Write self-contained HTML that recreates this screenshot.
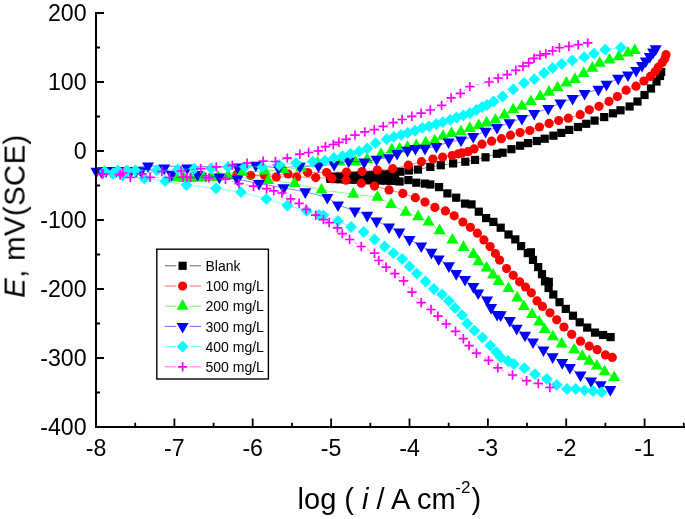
<!DOCTYPE html>
<html><head><meta charset="utf-8"><style>
html,body{margin:0;padding:0;background:#fff;}
body{width:685px;height:519px;overflow:hidden;font-family:"Liberation Sans",sans-serif;}
svg{display:block;}

</style></head><body>
<svg width="685" height="519" viewBox="0 0 685 519">
<path d="M610.6 337.1 L603.1 335 L595 332.6 L587.2 327.6 L579.7 322.3 L573 315.7 L565.8 308.9 L559.5 302.2 L553.3 294.5 L548.6 288 L548.8 281.8 L545 281.3 L542 274.2 L538.2 267.1 L533 259.9 L530.9 252.3 L527.8 253.1 L521.1 246.1 L515.3 239.4 L508.5 234.5 L500.7 227.7 L493.4 221.9 L486.1 218.1 L478.8 211.7 L471.5 204.4 L465 203.6 L456.2 197.7 L447.4 193.4 L439.1 187.1 L430.3 184.5 L425 183.6 L416.3 182.7 L408.4 180.1 L399.6 181.5 L395.5 180.9 L390.5 180.8 L385.5 180.6 L380.5 180.5 L375.5 180.3 L370.5 180.2 L365.5 180 L360.5 179.9 L355.5 179.7 L350.5 179.6 L345.5 179.4 L340.5 179.2 L335.5 179.1 L330.5 178.9 L330 177 L335 176.8 L340 176.5 L345 176.3 L350 176.1 L355 175.8 L360 175.6 L365 175.4 L370 175.2 L375 174.9 L380 174.7 L385 174.5 L390 174.2 L395 174 L400.5 171.7 L409 170.5 L418 169.6 L430.3 166.9 L440.8 165.2 L453.1 163.4 L465.3 161.7 L475 159.9 L485.5 157.3 L496.9 153.8 L502.6 152.7 L511.4 149.2 L520.1 145.7 L528 143.1 L536.8 141 L544.7 138.7 L553.4 135.7 L561.3 132.9 L569.2 129.9 L578 127 L586.2 123.8 L594.6 120.6 L604.2 117.1 L613 113.3 L620.5 110.3 L629.6 106.5 L637.5 101.5 L644.5 95 L651 88.5 L656.5 81.5 L660 76 L661.2 72" fill="none" stroke="#000000" stroke-width="0.75" stroke-opacity="0.65"/>
<g fill="#000000"><rect x="326.4" y="174.8" width="8.2" height="8.2"/><rect x="331.4" y="175" width="8.2" height="8.2"/><rect x="336.4" y="175.1" width="8.2" height="8.2"/><rect x="341.4" y="175.3" width="8.2" height="8.2"/><rect x="346.4" y="175.5" width="8.2" height="8.2"/><rect x="351.4" y="175.6" width="8.2" height="8.2"/><rect x="356.4" y="175.8" width="8.2" height="8.2"/><rect x="361.4" y="175.9" width="8.2" height="8.2"/><rect x="366.4" y="176.1" width="8.2" height="8.2"/><rect x="371.4" y="176.2" width="8.2" height="8.2"/><rect x="376.4" y="176.4" width="8.2" height="8.2"/><rect x="381.4" y="176.5" width="8.2" height="8.2"/><rect x="386.4" y="176.7" width="8.2" height="8.2"/><rect x="391.4" y="176.8" width="8.2" height="8.2"/><rect x="395.5" y="177.4" width="8.2" height="8.2"/><rect x="404.3" y="176" width="8.2" height="8.2"/><rect x="412.2" y="178.6" width="8.2" height="8.2"/><rect x="420.9" y="179.5" width="8.2" height="8.2"/><rect x="426.2" y="180.4" width="8.2" height="8.2"/><rect x="435" y="183" width="8.2" height="8.2"/><rect x="443.3" y="189.3" width="8.2" height="8.2"/><rect x="452.1" y="193.6" width="8.2" height="8.2"/><rect x="460.9" y="199.5" width="8.2" height="8.2"/><rect x="467.4" y="200.3" width="8.2" height="8.2"/><rect x="474.7" y="207.6" width="8.2" height="8.2"/><rect x="482" y="214" width="8.2" height="8.2"/><rect x="489.3" y="217.8" width="8.2" height="8.2"/><rect x="496.6" y="223.6" width="8.2" height="8.2"/><rect x="504.4" y="230.4" width="8.2" height="8.2"/><rect x="511.2" y="235.3" width="8.2" height="8.2"/><rect x="517" y="242" width="8.2" height="8.2"/><rect x="523.7" y="249" width="8.2" height="8.2"/><rect x="526.8" y="248.2" width="8.2" height="8.2"/><rect x="528.9" y="255.8" width="8.2" height="8.2"/><rect x="534.1" y="263" width="8.2" height="8.2"/><rect x="537.9" y="270.1" width="8.2" height="8.2"/><rect x="540.9" y="277.2" width="8.2" height="8.2"/><rect x="544.7" y="277.7" width="8.2" height="8.2"/><rect x="544.5" y="283.9" width="8.2" height="8.2"/><rect x="549.2" y="290.4" width="8.2" height="8.2"/><rect x="555.4" y="298.1" width="8.2" height="8.2"/><rect x="561.7" y="304.8" width="8.2" height="8.2"/><rect x="568.9" y="311.6" width="8.2" height="8.2"/><rect x="575.6" y="318.2" width="8.2" height="8.2"/><rect x="583.1" y="323.5" width="8.2" height="8.2"/><rect x="590.9" y="328.5" width="8.2" height="8.2"/><rect x="599" y="330.9" width="8.2" height="8.2"/><rect x="606.5" y="333" width="8.2" height="8.2"/><rect x="325.9" y="172.9" width="8.2" height="8.2"/><rect x="330.9" y="172.7" width="8.2" height="8.2"/><rect x="335.9" y="172.4" width="8.2" height="8.2"/><rect x="340.9" y="172.2" width="8.2" height="8.2"/><rect x="345.9" y="172" width="8.2" height="8.2"/><rect x="350.9" y="171.7" width="8.2" height="8.2"/><rect x="355.9" y="171.5" width="8.2" height="8.2"/><rect x="360.9" y="171.3" width="8.2" height="8.2"/><rect x="365.9" y="171.1" width="8.2" height="8.2"/><rect x="370.9" y="170.8" width="8.2" height="8.2"/><rect x="375.9" y="170.6" width="8.2" height="8.2"/><rect x="380.9" y="170.4" width="8.2" height="8.2"/><rect x="385.9" y="170.1" width="8.2" height="8.2"/><rect x="390.9" y="169.9" width="8.2" height="8.2"/><rect x="396.4" y="167.6" width="8.2" height="8.2"/><rect x="404.9" y="166.4" width="8.2" height="8.2"/><rect x="413.9" y="165.5" width="8.2" height="8.2"/><rect x="426.2" y="162.8" width="8.2" height="8.2"/><rect x="436.7" y="161.1" width="8.2" height="8.2"/><rect x="449" y="159.3" width="8.2" height="8.2"/><rect x="461.2" y="157.6" width="8.2" height="8.2"/><rect x="470.9" y="155.8" width="8.2" height="8.2"/><rect x="481.4" y="153.2" width="8.2" height="8.2"/><rect x="492.8" y="149.7" width="8.2" height="8.2"/><rect x="498.5" y="148.6" width="8.2" height="8.2"/><rect x="507.3" y="145.1" width="8.2" height="8.2"/><rect x="516" y="141.6" width="8.2" height="8.2"/><rect x="523.9" y="139" width="8.2" height="8.2"/><rect x="532.7" y="136.9" width="8.2" height="8.2"/><rect x="540.6" y="134.6" width="8.2" height="8.2"/><rect x="549.3" y="131.6" width="8.2" height="8.2"/><rect x="557.2" y="128.8" width="8.2" height="8.2"/><rect x="565.1" y="125.8" width="8.2" height="8.2"/><rect x="573.9" y="122.9" width="8.2" height="8.2"/><rect x="582.1" y="119.7" width="8.2" height="8.2"/><rect x="590.5" y="116.5" width="8.2" height="8.2"/><rect x="600.1" y="113" width="8.2" height="8.2"/><rect x="608.9" y="109.2" width="8.2" height="8.2"/><rect x="616.4" y="106.2" width="8.2" height="8.2"/><rect x="625.5" y="102.4" width="8.2" height="8.2"/><rect x="633.4" y="97.4" width="8.2" height="8.2"/><rect x="640.4" y="90.9" width="8.2" height="8.2"/><rect x="646.9" y="84.4" width="8.2" height="8.2"/><rect x="652.4" y="77.4" width="8.2" height="8.2"/><rect x="655.9" y="71.9" width="8.2" height="8.2"/><rect x="657.1" y="67.9" width="8.2" height="8.2"/></g>
<path d="M612.3 357.4 L605.5 354.9 L597.2 349.7 L589.2 346.1 L580.5 341.2 L571.7 334.3 L564 327 L556.7 319.8 L550 312.8 L542.5 306.4 L537 300.9 L531.3 292.8 L525.5 287 L519.6 281.8 L513.2 275.3 L506.5 268.6 L499.6 260.1 L495.4 253.6 L490.1 246.6 L483.9 239.9 L477.4 233.2 L470.4 227.3 L462.9 222 L454.2 215.8 L445.4 210.9 L434.9 207.4 L425 202.1 L415.3 197.7 L402.8 193.4 L389.1 189.9 L374.5 186.1 L361.3 183.2 L346 180.2 L331.8 178.4 L315.7 177.6 L296.7 176.9 L276.3 176.9 L250.7 175.4 L237 174.3 L264.6 175.4 L288 174 L307.7 172.5 L326.6 172.5 L346.5 172 L362 171.6 L377.4 170.1 L392.7 168.7 L408.4 165.2 L421.5 161.7 L432.9 159.1 L442.6 157 L452.2 155.6 L458.3 153.8 L461.8 152.9 L468 151.7 L474.1 148.9 L482 144.2 L491.6 141.2 L501.4 138.7 L510.5 135.2 L520.1 132.6 L529.8 130.5 L539.4 127 L549.1 123.4 L558.7 120.6 L568.3 118.2 L580.2 114.7 L589.3 109.8 L599 106.3 L609 101.4 L617.4 96.6 L626.1 90.2 L636 86.2 L643.9 81 L650.4 76.4 L655 71.8 L658.3 67.2 L662.3 62.6 L664.9 58.7 L666 54.7" fill="none" stroke="#FF0000" stroke-width="0.75" stroke-opacity="0.65"/>
<g fill="#FF0000"><circle cx="250.7" cy="175.4" r="4.6"/><circle cx="276.3" cy="176.9" r="4.6"/><circle cx="296.7" cy="176.9" r="4.6"/><circle cx="315.7" cy="177.6" r="4.6"/><circle cx="331.8" cy="178.4" r="4.6"/><circle cx="346" cy="180.2" r="4.6"/><circle cx="361.3" cy="183.2" r="4.6"/><circle cx="374.5" cy="186.1" r="4.6"/><circle cx="389.1" cy="189.9" r="4.6"/><circle cx="402.8" cy="193.4" r="4.6"/><circle cx="415.3" cy="197.7" r="4.6"/><circle cx="425" cy="202.1" r="4.6"/><circle cx="434.9" cy="207.4" r="4.6"/><circle cx="445.4" cy="210.9" r="4.6"/><circle cx="454.2" cy="215.8" r="4.6"/><circle cx="462.9" cy="222" r="4.6"/><circle cx="470.4" cy="227.3" r="4.6"/><circle cx="477.4" cy="233.2" r="4.6"/><circle cx="483.9" cy="239.9" r="4.6"/><circle cx="490.1" cy="246.6" r="4.6"/><circle cx="495.4" cy="253.6" r="4.6"/><circle cx="499.6" cy="260.1" r="4.6"/><circle cx="506.5" cy="268.6" r="4.6"/><circle cx="513.2" cy="275.3" r="4.6"/><circle cx="519.6" cy="281.8" r="4.6"/><circle cx="525.5" cy="287" r="4.6"/><circle cx="531.3" cy="292.8" r="4.6"/><circle cx="537" cy="300.9" r="4.6"/><circle cx="542.5" cy="306.4" r="4.6"/><circle cx="550" cy="312.8" r="4.6"/><circle cx="556.7" cy="319.8" r="4.6"/><circle cx="564" cy="327" r="4.6"/><circle cx="571.7" cy="334.3" r="4.6"/><circle cx="580.5" cy="341.2" r="4.6"/><circle cx="589.2" cy="346.1" r="4.6"/><circle cx="597.2" cy="349.7" r="4.6"/><circle cx="605.5" cy="354.9" r="4.6"/><circle cx="612.3" cy="357.4" r="4.6"/><circle cx="237" cy="174.3" r="4.6"/><circle cx="264.6" cy="175.4" r="4.6"/><circle cx="288" cy="174" r="4.6"/><circle cx="307.7" cy="172.5" r="4.6"/><circle cx="326.6" cy="172.5" r="4.6"/><circle cx="346.5" cy="172" r="4.6"/><circle cx="362" cy="171.6" r="4.6"/><circle cx="377.4" cy="170.1" r="4.6"/><circle cx="392.7" cy="168.7" r="4.6"/><circle cx="408.4" cy="165.2" r="4.6"/><circle cx="421.5" cy="161.7" r="4.6"/><circle cx="432.9" cy="159.1" r="4.6"/><circle cx="442.6" cy="157" r="4.6"/><circle cx="452.2" cy="155.6" r="4.6"/><circle cx="458.3" cy="153.8" r="4.6"/><circle cx="461.8" cy="152.9" r="4.6"/><circle cx="468" cy="151.7" r="4.6"/><circle cx="474.1" cy="148.9" r="4.6"/><circle cx="482" cy="144.2" r="4.6"/><circle cx="491.6" cy="141.2" r="4.6"/><circle cx="501.4" cy="138.7" r="4.6"/><circle cx="510.5" cy="135.2" r="4.6"/><circle cx="520.1" cy="132.6" r="4.6"/><circle cx="529.8" cy="130.5" r="4.6"/><circle cx="539.4" cy="127" r="4.6"/><circle cx="549.1" cy="123.4" r="4.6"/><circle cx="558.7" cy="120.6" r="4.6"/><circle cx="568.3" cy="118.2" r="4.6"/><circle cx="580.2" cy="114.7" r="4.6"/><circle cx="589.3" cy="109.8" r="4.6"/><circle cx="599" cy="106.3" r="4.6"/><circle cx="609" cy="101.4" r="4.6"/><circle cx="617.4" cy="96.6" r="4.6"/><circle cx="626.1" cy="90.2" r="4.6"/><circle cx="636" cy="86.2" r="4.6"/><circle cx="643.9" cy="81" r="4.6"/><circle cx="650.4" cy="76.4" r="4.6"/><circle cx="655" cy="71.8" r="4.6"/><circle cx="658.3" cy="67.2" r="4.6"/><circle cx="662.3" cy="62.6" r="4.6"/><circle cx="664.9" cy="58.7" r="4.6"/><circle cx="666" cy="54.7" r="4.6"/></g>
<path d="M614.2 377.6 L604.6 371.8 L596.9 366 L589.2 361.2 L582.4 356.4 L574.2 349.8 L561.6 343.9 L552.9 336.8 L544.7 329.4 L539.2 321.9 L532.1 314.4 L523.9 306.4 L517.3 297.9 L508.5 288.5 L498.6 281.4 L493 275.1 L486.6 268 L478.5 261.7 L473.4 254.4 L463.5 247.4 L452.4 240.1 L439.6 230.7 L428.5 222 L418.2 216.7 L405.7 212.3 L391.1 204.5 L377.4 197.2 L353.3 194.2 L321.5 190 L294.5 183.5 L268.2 180.5 L228 176 L218 177 L211 177.5 L204 177.8 L197.5 178 L190.9 178.6 L184 178.5 L176.9 177.8 L242.2 172.3 L264.6 171.1 L283.6 169.6 L301.1 168.1 L317.5 163 L339.4 162 L355.5 162 L367.2 159.5 L381 154.4 L391.8 149.9 L399.6 149 L407.5 147.3 L416.3 145.5 L425.7 142.8 L434.8 140.8 L443 136.3 L451.5 133.6 L460.9 131.8 L469.8 128.4 L478.7 125.6 L486.6 122.9 L495.5 120.1 L504.4 115 L513.1 109.8 L521.9 106.3 L530.9 101.6 L540.3 96.5 L549 92.2 L557.5 87.8 L566.4 83 L574.9 79.4 L583.6 73.4 L592.4 68.2 L599.7 63.3 L609.5 60 L618.9 56.7 L628 53 L634.8 50.6" fill="none" stroke="#00FF00" stroke-width="0.75" stroke-opacity="0.65"/>
<g fill="#00FF00"><path d="M176.9 170.7L182.9 181.3L170.9 181.3Z"/><path d="M184 171.4L190 182L178 182Z"/><path d="M190.9 171.5L196.9 182.1L184.9 182.1Z"/><path d="M197.5 170.9L203.5 181.5L191.5 181.5Z"/><path d="M204 170.7L210 181.3L198 181.3Z"/><path d="M211 170.4L217 181L205 181Z"/><path d="M218 169.9L224 180.5L212 180.5Z"/><path d="M228 168.9L234 179.5L222 179.5Z"/><path d="M268.2 173.4L274.2 184L262.2 184Z"/><path d="M294.5 176.4L300.5 187L288.5 187Z"/><path d="M321.5 182.9L327.5 193.5L315.5 193.5Z"/><path d="M353.3 187.1L359.3 197.7L347.3 197.7Z"/><path d="M377.4 190.1L383.4 200.7L371.4 200.7Z"/><path d="M391.1 197.4L397.1 208L385.1 208Z"/><path d="M405.7 205.2L411.7 215.8L399.7 215.8Z"/><path d="M418.2 209.6L424.2 220.2L412.2 220.2Z"/><path d="M428.5 214.9L434.5 225.5L422.5 225.5Z"/><path d="M439.6 223.6L445.6 234.2L433.6 234.2Z"/><path d="M452.4 233L458.4 243.6L446.4 243.6Z"/><path d="M463.5 240.3L469.5 250.9L457.5 250.9Z"/><path d="M473.4 247.3L479.4 257.9L467.4 257.9Z"/><path d="M478.5 254.6L484.5 265.2L472.5 265.2Z"/><path d="M486.6 260.9L492.6 271.5L480.6 271.5Z"/><path d="M493 268L499 278.6L487 278.6Z"/><path d="M498.6 274.3L504.6 284.9L492.6 284.9Z"/><path d="M508.5 281.4L514.5 292L502.5 292Z"/><path d="M517.3 290.8L523.3 301.4L511.3 301.4Z"/><path d="M523.9 299.4L529.9 310L517.9 310Z"/><path d="M532.1 307.4L538.1 318L526.1 318Z"/><path d="M539.2 314.9L545.2 325.5L533.2 325.5Z"/><path d="M544.7 322.4L550.7 333L538.7 333Z"/><path d="M552.9 329.7L558.9 340.3L546.9 340.3Z"/><path d="M561.6 336.9L567.6 347.5L555.6 347.5Z"/><path d="M574.2 342.7L580.2 353.3L568.2 353.3Z"/><path d="M582.4 349.3L588.4 359.9L576.4 359.9Z"/><path d="M589.2 354.1L595.2 364.7L583.2 364.7Z"/><path d="M596.9 358.9L602.9 369.5L590.9 369.5Z"/><path d="M604.6 364.7L610.6 375.3L598.6 375.3Z"/><path d="M614.2 370.5L620.2 381.1L608.2 381.1Z"/><path d="M242.2 165.2L248.2 175.8L236.2 175.8Z"/><path d="M264.6 164L270.6 174.6L258.6 174.6Z"/><path d="M283.6 162.5L289.6 173.1L277.6 173.1Z"/><path d="M301.1 161L307.1 171.6L295.1 171.6Z"/><path d="M317.5 155.9L323.5 166.5L311.5 166.5Z"/><path d="M339.4 154.9L345.4 165.5L333.4 165.5Z"/><path d="M355.5 154.9L361.5 165.5L349.5 165.5Z"/><path d="M367.2 152.4L373.2 163L361.2 163Z"/><path d="M381 147.3L387 157.9L375 157.9Z"/><path d="M391.8 142.8L397.8 153.4L385.8 153.4Z"/><path d="M399.6 141.9L405.6 152.5L393.6 152.5Z"/><path d="M407.5 140.2L413.5 150.8L401.5 150.8Z"/><path d="M416.3 138.4L422.3 149L410.3 149Z"/><path d="M425.7 135.7L431.7 146.3L419.7 146.3Z"/><path d="M434.8 133.7L440.8 144.3L428.8 144.3Z"/><path d="M443 129.2L449 139.8L437 139.8Z"/><path d="M451.5 126.5L457.5 137.1L445.5 137.1Z"/><path d="M460.9 124.7L466.9 135.3L454.9 135.3Z"/><path d="M469.8 121.3L475.8 131.9L463.8 131.9Z"/><path d="M478.7 118.5L484.7 129.1L472.7 129.1Z"/><path d="M486.6 115.8L492.6 126.4L480.6 126.4Z"/><path d="M495.5 113L501.5 123.6L489.5 123.6Z"/><path d="M504.4 107.9L510.4 118.5L498.4 118.5Z"/><path d="M513.1 102.7L519.1 113.3L507.1 113.3Z"/><path d="M521.9 99.2L527.9 109.8L515.9 109.8Z"/><path d="M530.9 94.5L536.9 105.1L524.9 105.1Z"/><path d="M540.3 89.4L546.3 100L534.3 100Z"/><path d="M549 85.1L555 95.7L543 95.7Z"/><path d="M557.5 80.7L563.5 91.3L551.5 91.3Z"/><path d="M566.4 75.9L572.4 86.5L560.4 86.5Z"/><path d="M574.9 72.3L580.9 82.9L568.9 82.9Z"/><path d="M583.6 66.3L589.6 76.9L577.6 76.9Z"/><path d="M592.4 61.1L598.4 71.7L586.4 71.7Z"/><path d="M599.7 56.2L605.7 66.8L593.7 66.8Z"/><path d="M609.5 52.9L615.5 63.5L603.5 63.5Z"/><path d="M618.9 49.6L624.9 60.2L612.9 60.2Z"/><path d="M628 45.9L634 56.5L622 56.5Z"/><path d="M634.8 43.5L640.8 54.1L628.8 54.1Z"/></g>
<path d="M610.3 389.6 L600.7 384.7 L591.1 380.9 L580.5 375.1 L569.9 367.4 L562.2 362.6 L552.6 356.8 L543.5 349.9 L533 342 L525 335.2 L516.7 328.4 L509.8 320.5 L500.7 314.9 L497.1 314.5 L491.1 307.6 L487.1 300 L478.2 292.9 L473.3 286.5 L465 279.5 L456.2 273.6 L448.9 265.8 L438.7 259 L431.4 252.3 L421.2 245.9 L409.5 239.5 L399.3 231.9 L389.1 226.9 L376.5 221.1 L367.2 215.3 L354.9 210.9 L338 205 L327.3 197.5 L305.3 191.8 L283.6 187.8 L259 183.6 L237.4 179.1 L219.3 177.1 L197.5 174.5 L187.2 168.1 L171.6 174.3 L164.2 168.1 L141 170.8 L136 170.8 L131 170.8 L126 170.8 L121 170.8 L116 170.8 L111 170.8 L106 170.8 L101 170.8 L96.4 171.3 L148 166 L237.5 167 L255.8 165.2 L278.5 168.1 L299.8 166.2 L318.5 165.9 L334.1 164.4 L348.7 161.1 L364.2 162.1 L376.6 159.2 L389.1 157.7 L397.1 153.4 L407.5 150.3 L415.4 148.5 L425 148.3 L436.4 146.5 L448.6 142 L461 140.1 L473.2 136.5 L485.6 131.3 L497 127.4 L509.5 122.7 L521.9 118.4 L534.2 113.5 L548.2 108.5 L560.4 103 L572.6 98.5 L584.6 93.5 L598.4 89.3 L606.5 84.3 L618.2 78.3 L628 75 L636.2 70.4 L642 65.5 L645.8 61 L649.8 56.5 L653.1 52.1 L655.7 48.8" fill="none" stroke="#0000FF" stroke-width="0.75" stroke-opacity="0.65"/>
<g fill="#0000FF"><path d="M90.4 167.8L102.4 167.8L96.4 178.4Z"/><path d="M95 167.3L107 167.3L101 177.9Z"/><path d="M100 167.3L112 167.3L106 177.9Z"/><path d="M105 167.3L117 167.3L111 177.9Z"/><path d="M110 167.3L122 167.3L116 177.9Z"/><path d="M115 167.3L127 167.3L121 177.9Z"/><path d="M120 167.3L132 167.3L126 177.9Z"/><path d="M125 167.3L137 167.3L131 177.9Z"/><path d="M130 167.3L142 167.3L136 177.9Z"/><path d="M135 167.3L147 167.3L141 177.9Z"/><path d="M158.2 164.6L170.2 164.6L164.2 175.2Z"/><path d="M165.6 170.8L177.6 170.8L171.6 181.4Z"/><path d="M181.2 164.6L193.2 164.6L187.2 175.2Z"/><path d="M191.5 171L203.5 171L197.5 181.6Z"/><path d="M213.3 173.6L225.3 173.6L219.3 184.2Z"/><path d="M231.4 175.6L243.4 175.6L237.4 186.2Z"/><path d="M253 180.1L265 180.1L259 190.7Z"/><path d="M277.6 184.3L289.6 184.3L283.6 194.9Z"/><path d="M299.3 188.3L311.3 188.3L305.3 198.9Z"/><path d="M321.3 194L333.3 194L327.3 204.6Z"/><path d="M332 201.5L344 201.5L338 212.1Z"/><path d="M348.9 207.4L360.9 207.4L354.9 218Z"/><path d="M361.2 211.8L373.2 211.8L367.2 222.4Z"/><path d="M370.5 217.6L382.5 217.6L376.5 228.2Z"/><path d="M383.1 223.4L395.1 223.4L389.1 234Z"/><path d="M393.3 228.4L405.3 228.4L399.3 239Z"/><path d="M403.5 236L415.5 236L409.5 246.6Z"/><path d="M415.2 242.4L427.2 242.4L421.2 253Z"/><path d="M425.4 248.8L437.4 248.8L431.4 259.4Z"/><path d="M432.7 255.5L444.7 255.5L438.7 266.1Z"/><path d="M442.9 262.3L454.9 262.3L448.9 272.9Z"/><path d="M450.2 270.1L462.2 270.1L456.2 280.7Z"/><path d="M459 276L471 276L465 286.6Z"/><path d="M467.3 282.9L479.3 282.9L473.3 293.5Z"/><path d="M472.2 289.4L484.2 289.4L478.2 300Z"/><path d="M481.1 296.5L493.1 296.5L487.1 307.1Z"/><path d="M485.1 304.1L497.1 304.1L491.1 314.7Z"/><path d="M491.1 311L503.1 311L497.1 321.6Z"/><path d="M494.7 311.3L506.7 311.3L500.7 321.9Z"/><path d="M503.8 317L515.8 317L509.8 327.6Z"/><path d="M510.7 324.8L522.7 324.8L516.7 335.4Z"/><path d="M519 331.7L531 331.7L525 342.3Z"/><path d="M527 338.5L539 338.5L533 349.1Z"/><path d="M537.5 346.4L549.5 346.4L543.5 357Z"/><path d="M546.6 353.3L558.6 353.3L552.6 363.9Z"/><path d="M556.2 359.1L568.2 359.1L562.2 369.7Z"/><path d="M563.9 363.9L575.9 363.9L569.9 374.5Z"/><path d="M574.5 371.6L586.5 371.6L580.5 382.2Z"/><path d="M585.1 377.4L597.1 377.4L591.1 388Z"/><path d="M594.7 381.2L606.7 381.2L600.7 391.8Z"/><path d="M604.3 386.1L616.3 386.1L610.3 396.7Z"/><path d="M142 162.5L154 162.5L148 173.1Z"/><path d="M231.5 163.5L243.5 163.5L237.5 174.1Z"/><path d="M249.8 161.7L261.8 161.7L255.8 172.3Z"/><path d="M272.5 164.6L284.5 164.6L278.5 175.2Z"/><path d="M293.8 162.7L305.8 162.7L299.8 173.3Z"/><path d="M312.5 162.4L324.5 162.4L318.5 173Z"/><path d="M328.1 160.9L340.1 160.9L334.1 171.5Z"/><path d="M342.7 157.6L354.7 157.6L348.7 168.2Z"/><path d="M358.2 158.6L370.2 158.6L364.2 169.2Z"/><path d="M370.6 155.7L382.6 155.7L376.6 166.3Z"/><path d="M383.1 154.2L395.1 154.2L389.1 164.8Z"/><path d="M391.1 149.9L403.1 149.9L397.1 160.5Z"/><path d="M401.5 146.8L413.5 146.8L407.5 157.4Z"/><path d="M409.4 145L421.4 145L415.4 155.6Z"/><path d="M419 144.8L431 144.8L425 155.4Z"/><path d="M430.4 143L442.4 143L436.4 153.6Z"/><path d="M442.6 138.5L454.6 138.5L448.6 149.1Z"/><path d="M455 136.6L467 136.6L461 147.2Z"/><path d="M467.2 133L479.2 133L473.2 143.6Z"/><path d="M479.6 127.8L491.6 127.8L485.6 138.4Z"/><path d="M491 123.9L503 123.9L497 134.5Z"/><path d="M503.5 119.2L515.5 119.2L509.5 129.8Z"/><path d="M515.9 114.9L527.9 114.9L521.9 125.5Z"/><path d="M528.2 110L540.2 110L534.2 120.6Z"/><path d="M542.2 105L554.2 105L548.2 115.6Z"/><path d="M554.4 99.5L566.4 99.5L560.4 110.1Z"/><path d="M566.6 95L578.6 95L572.6 105.6Z"/><path d="M578.6 90L590.6 90L584.6 100.6Z"/><path d="M592.4 85.8L604.4 85.8L598.4 96.4Z"/><path d="M600.5 80.8L612.5 80.8L606.5 91.4Z"/><path d="M612.2 74.8L624.2 74.8L618.2 85.4Z"/><path d="M622 71.5L634 71.5L628 82.1Z"/><path d="M630.2 66.9L642.2 66.9L636.2 77.5Z"/><path d="M636 62L648 62L642 72.6Z"/><path d="M639.8 57.5L651.8 57.5L645.8 68.1Z"/><path d="M643.8 53L655.8 53L649.8 63.6Z"/><path d="M647.1 48.6L659.1 48.6L653.1 59.2Z"/><path d="M649.7 45.3L661.7 45.3L655.7 55.9Z"/></g>
<path d="M601.5 392.2 L593 391 L584.5 390.3 L575.7 389 L567 389 L556.7 384.8 L546.9 379 L535 374.2 L524.4 368.2 L513.8 364 L508 361 L500.8 357.4 L496.3 352.1 L490.3 345.6 L482.4 337.6 L474.4 330.6 L467.2 323.5 L462 315.2 L455 308 L448.9 300.9 L442 294.4 L433.8 289 L425.5 281.5 L416.8 273.6 L409.5 266.4 L402.2 259 L393.4 253.2 L384.7 246.5 L374.5 239.5 L363.6 231.9 L351.1 226.9 L338 221.1 L323.4 215.3 L319 215 L306.7 210.9 L287.4 205.5 L266.3 198.9 L241 192.2 L216 188.3 L186.5 185.1 L165.2 181 L144.4 178.5 L104.7 171.3 L113 173.5 L122.7 175.7 L117.8 170.5 L127 170.5 L135.4 170.5 L156.8 170.3 L177.8 169.5 L194.4 168.6 L211.2 168.4 L228 166.9 L244.9 166.8 L262.3 166.9 L279.1 165 L296 163.1 L312.8 161.6 L325 160.6 L334 157.9 L342.4 156.2 L350.4 153.8 L359 151.5 L367.3 148.5 L375.6 143.2 L386.6 139.2 L393.9 136.8 L401.2 134.8 L407.7 132.9 L415 130.7 L422.3 127.8 L428.9 126.3 L436.2 124.1 L442.8 122.2 L450.1 119.8 L456.6 117.6 L463.2 115.4 L469.8 113.2 L476.4 110 L482 107 L487 105 L493.6 101.5 L502.6 96.5 L513.3 89.4 L524 83 L534.3 79.2 L544 73 L552.6 68 L561.7 64 L572.3 60.5 L584.3 57.2 L594 53.6 L605.2 49.6 L621 47.6" fill="none" stroke="#00FFFF" stroke-width="0.75" stroke-opacity="0.65"/>
<g fill="#00FFFF"><path d="M144.4 172.6L150.3 178.5L144.4 184.4L138.5 178.5Z"/><path d="M165.2 175.1L171.1 181L165.2 186.9L159.3 181Z"/><path d="M186.5 179.2L192.4 185.1L186.5 191L180.6 185.1Z"/><path d="M216 182.4L221.9 188.3L216 194.2L210.1 188.3Z"/><path d="M241 186.3L246.9 192.2L241 198.1L235.1 192.2Z"/><path d="M266.3 193L272.2 198.9L266.3 204.8L260.4 198.9Z"/><path d="M287.4 199.6L293.3 205.5L287.4 211.4L281.5 205.5Z"/><path d="M306.7 205L312.6 210.9L306.7 216.8L300.8 210.9Z"/><path d="M319 209.1L324.9 215L319 220.9L313.1 215Z"/><path d="M323.4 209.4L329.3 215.3L323.4 221.2L317.5 215.3Z"/><path d="M338 215.2L343.9 221.1L338 227L332.1 221.1Z"/><path d="M351.1 221L357 226.9L351.1 232.8L345.2 226.9Z"/><path d="M363.6 226L369.5 231.9L363.6 237.8L357.7 231.9Z"/><path d="M374.5 233.6L380.4 239.5L374.5 245.4L368.6 239.5Z"/><path d="M384.7 240.6L390.6 246.5L384.7 252.4L378.8 246.5Z"/><path d="M393.4 247.3L399.3 253.2L393.4 259.1L387.5 253.2Z"/><path d="M402.2 253.1L408.1 259L402.2 264.9L396.3 259Z"/><path d="M409.5 260.5L415.4 266.4L409.5 272.3L403.6 266.4Z"/><path d="M416.8 267.7L422.7 273.6L416.8 279.5L410.9 273.6Z"/><path d="M425.5 275.6L431.4 281.5L425.5 287.4L419.6 281.5Z"/><path d="M433.8 283.1L439.7 289L433.8 294.9L427.9 289Z"/><path d="M442 288.5L447.9 294.4L442 300.3L436.1 294.4Z"/><path d="M448.9 295L454.8 300.9L448.9 306.8L443 300.9Z"/><path d="M455 302.1L460.9 308L455 313.9L449.1 308Z"/><path d="M462 309.3L467.9 315.2L462 321.1L456.1 315.2Z"/><path d="M467.2 317.6L473.1 323.5L467.2 329.4L461.3 323.5Z"/><path d="M474.4 324.7L480.3 330.6L474.4 336.5L468.5 330.6Z"/><path d="M482.4 331.7L488.3 337.6L482.4 343.5L476.5 337.6Z"/><path d="M490.3 339.7L496.2 345.6L490.3 351.5L484.4 345.6Z"/><path d="M496.3 346.2L502.2 352.1L496.3 358L490.4 352.1Z"/><path d="M500.8 351.5L506.7 357.4L500.8 363.3L494.9 357.4Z"/><path d="M508 355.1L513.9 361L508 366.9L502.1 361Z"/><path d="M513.8 358.1L519.7 364L513.8 369.9L507.9 364Z"/><path d="M524.4 362.3L530.3 368.2L524.4 374.1L518.5 368.2Z"/><path d="M535 368.3L540.9 374.2L535 380.1L529.1 374.2Z"/><path d="M546.9 373.1L552.8 379L546.9 384.9L541 379Z"/><path d="M556.7 378.9L562.6 384.8L556.7 390.7L550.8 384.8Z"/><path d="M567 383.1L572.9 389L567 394.9L561.1 389Z"/><path d="M575.7 383.1L581.6 389L575.7 394.9L569.8 389Z"/><path d="M584.5 384.4L590.4 390.3L584.5 396.2L578.6 390.3Z"/><path d="M593 385.1L598.9 391L593 396.9L587.1 391Z"/><path d="M601.5 386.3L607.4 392.2L601.5 398.1L595.6 392.2Z"/><path d="M104.7 165.4L110.6 171.3L104.7 177.2L98.8 171.3Z"/><path d="M113 167.6L118.9 173.5L113 179.4L107.1 173.5Z"/><path d="M122.7 169.8L128.6 175.7L122.7 181.6L116.8 175.7Z"/><path d="M117.8 164.6L123.7 170.5L117.8 176.4L111.9 170.5Z"/><path d="M127 164.6L132.9 170.5L127 176.4L121.1 170.5Z"/><path d="M135.4 164.6L141.3 170.5L135.4 176.4L129.5 170.5Z"/><path d="M156.8 164.4L162.7 170.3L156.8 176.2L150.9 170.3Z"/><path d="M177.8 163.6L183.7 169.5L177.8 175.4L171.9 169.5Z"/><path d="M194.4 162.7L200.3 168.6L194.4 174.5L188.5 168.6Z"/><path d="M211.2 162.5L217.1 168.4L211.2 174.3L205.3 168.4Z"/><path d="M228 161L233.9 166.9L228 172.8L222.1 166.9Z"/><path d="M244.9 160.9L250.8 166.8L244.9 172.7L239 166.8Z"/><path d="M262.3 161L268.2 166.9L262.3 172.8L256.4 166.9Z"/><path d="M279.1 159.1L285 165L279.1 170.9L273.2 165Z"/><path d="M296 157.2L301.9 163.1L296 169L290.1 163.1Z"/><path d="M312.8 155.7L318.7 161.6L312.8 167.5L306.9 161.6Z"/><path d="M325 154.7L330.9 160.6L325 166.5L319.1 160.6Z"/><path d="M334 152L339.9 157.9L334 163.8L328.1 157.9Z"/><path d="M342.4 150.3L348.3 156.2L342.4 162.1L336.5 156.2Z"/><path d="M350.4 147.9L356.3 153.8L350.4 159.7L344.5 153.8Z"/><path d="M359 145.6L364.9 151.5L359 157.4L353.1 151.5Z"/><path d="M367.3 142.6L373.2 148.5L367.3 154.4L361.4 148.5Z"/><path d="M375.6 137.3L381.5 143.2L375.6 149.1L369.7 143.2Z"/><path d="M386.6 133.3L392.5 139.2L386.6 145.1L380.7 139.2Z"/><path d="M393.9 130.9L399.8 136.8L393.9 142.7L388 136.8Z"/><path d="M401.2 128.9L407.1 134.8L401.2 140.7L395.3 134.8Z"/><path d="M407.7 127L413.6 132.9L407.7 138.8L401.8 132.9Z"/><path d="M415 124.8L420.9 130.7L415 136.6L409.1 130.7Z"/><path d="M422.3 121.9L428.2 127.8L422.3 133.7L416.4 127.8Z"/><path d="M428.9 120.4L434.8 126.3L428.9 132.2L423 126.3Z"/><path d="M436.2 118.2L442.1 124.1L436.2 130L430.3 124.1Z"/><path d="M442.8 116.3L448.7 122.2L442.8 128.1L436.9 122.2Z"/><path d="M450.1 113.9L456 119.8L450.1 125.7L444.2 119.8Z"/><path d="M456.6 111.7L462.5 117.6L456.6 123.5L450.7 117.6Z"/><path d="M463.2 109.5L469.1 115.4L463.2 121.3L457.3 115.4Z"/><path d="M469.8 107.3L475.7 113.2L469.8 119.1L463.9 113.2Z"/><path d="M476.4 104.1L482.3 110L476.4 115.9L470.5 110Z"/><path d="M482 101.1L487.9 107L482 112.9L476.1 107Z"/><path d="M487 99.1L492.9 105L487 110.9L481.1 105Z"/><path d="M493.6 95.6L499.5 101.5L493.6 107.4L487.7 101.5Z"/><path d="M502.6 90.6L508.5 96.5L502.6 102.4L496.7 96.5Z"/><path d="M513.3 83.5L519.2 89.4L513.3 95.3L507.4 89.4Z"/><path d="M524 77.1L529.9 83L524 88.9L518.1 83Z"/><path d="M534.3 73.3L540.2 79.2L534.3 85.1L528.4 79.2Z"/><path d="M544 67.1L549.9 73L544 78.9L538.1 73Z"/><path d="M552.6 62.1L558.5 68L552.6 73.9L546.7 68Z"/><path d="M561.7 58.1L567.6 64L561.7 69.9L555.8 64Z"/><path d="M572.3 54.6L578.2 60.5L572.3 66.4L566.4 60.5Z"/><path d="M584.3 51.3L590.2 57.2L584.3 63.1L578.4 57.2Z"/><path d="M594 47.7L599.9 53.6L594 59.5L588.1 53.6Z"/><path d="M605.2 43.7L611.1 49.6L605.2 55.5L599.3 49.6Z"/><path d="M621 41.7L626.9 47.6L621 53.5L615.1 47.6Z"/></g>
<path d="M549.9 387.5 L538.3 383.5 L526.6 380.7 L512.5 375 L497.8 367.9 L488.5 360.4 L476.5 353.2 L469.1 345.6 L463.3 338.7 L455.5 331.3 L446.2 323.9 L437.9 316.2 L431 309.5 L421.2 302.7 L412 292.2 L403.6 280.9 L394.9 273.6 L386.1 267.2 L378.8 260.5 L374.5 253.2 L361.3 246.5 L349.6 239.5 L342.3 233.6 L337.4 227.8 L329.2 222.6 L323.4 219.6 L315.7 215.2 L306.2 209.3 L299.1 203.3 L290.6 198.9 L281.9 193 L273.7 190.8 L266.7 188.6 L253.5 186.2 L239 183.7 L225.5 179.2 L209 177.9 L205.8 177.3 L190.5 177.5 L186.8 177.2 L183 177.2 L169.5 177.5 L150.1 177.3 L130.3 177.5 L120.1 174.8 L101.8 174.1 L103 173.8 L122.7 173 L141.9 173.8 L161.8 171.5 L181.2 171 L200.8 168.7 L216.3 166.9 L232.3 165.4 L247.1 163.2 L263.1 161.1 L275.5 161.5 L287.3 158.1 L299.8 154.1 L308.6 152.5 L318.1 150.9 L325.4 146.7 L333.3 144.5 L338.9 142.3 L346.1 139.4 L355 135.1 L364.8 131.9 L374.3 129.7 L383.2 126.4 L393.2 122.7 L402.1 119.5 L411.8 116.3 L421.1 113.2 L430.3 110 L441.6 105.4 L451.1 97.9 L460.4 93.4 L469.9 86.6 L489.1 82 L498.1 78.2 L507.2 74.6 L515.8 70.3 L523 66.2 L528.7 62.8 L534 58.3 L540 55.4 L545.8 53.8 L552.6 50.8 L559.4 47.7 L568.9 46.3 L578.2 44.7 L587.7 42.9" fill="none" stroke="#FF00FF" stroke-width="0.75" stroke-opacity="0.65" stroke-dasharray="3 4"/>
<g stroke="#FF00FF" stroke-width="1.7" fill="none"><path d="M97.1 174.1H106.5M101.8 169.4V178.8"/><path d="M115.4 174.8H124.8M120.1 170.1V179.5"/><path d="M125.6 177.5H135M130.3 172.8V182.2"/><path d="M145.4 177.3H154.8M150.1 172.6V182"/><path d="M164.8 177.5H174.2M169.5 172.8V182.2"/><path d="M178.3 177.2H187.7M183 172.5V181.9"/><path d="M182.1 177.2H191.5M186.8 172.5V181.9"/><path d="M185.8 177.5H195.2M190.5 172.8V182.2"/><path d="M201.1 177.3H210.5M205.8 172.6V182"/><path d="M204.3 177.9H213.7M209 173.2V182.6"/><path d="M220.8 179.2H230.2M225.5 174.5V183.9"/><path d="M234.3 183.7H243.7M239 179V188.4"/><path d="M248.8 186.2H258.2M253.5 181.5V190.9"/><path d="M262 188.6H271.4M266.7 183.9V193.3"/><path d="M269 190.8H278.4M273.7 186.1V195.5"/><path d="M277.2 193H286.6M281.9 188.3V197.7"/><path d="M285.9 198.9H295.3M290.6 194.2V203.6"/><path d="M294.4 203.3H303.8M299.1 198.6V208"/><path d="M301.5 209.3H310.9M306.2 204.6V214"/><path d="M311 215.2H320.4M315.7 210.5V219.9"/><path d="M318.7 219.6H328.1M323.4 214.9V224.3"/><path d="M324.5 222.6H333.9M329.2 217.9V227.3"/><path d="M332.7 227.8H342.1M337.4 223.1V232.5"/><path d="M337.6 233.6H347M342.3 228.9V238.3"/><path d="M344.9 239.5H354.3M349.6 234.8V244.2"/><path d="M356.6 246.5H366M361.3 241.8V251.2"/><path d="M369.8 253.2H379.2M374.5 248.5V257.9"/><path d="M374.1 260.5H383.5M378.8 255.8V265.2"/><path d="M381.4 267.2H390.8M386.1 262.5V271.9"/><path d="M390.2 273.6H399.6M394.9 268.9V278.3"/><path d="M398.9 280.9H408.3M403.6 276.2V285.6"/><path d="M407.3 292.2H416.7M412 287.5V296.9"/><path d="M416.5 302.7H425.9M421.2 298V307.4"/><path d="M426.3 309.5H435.7M431 304.8V314.2"/><path d="M433.2 316.2H442.6M437.9 311.5V320.9"/><path d="M441.5 323.9H450.9M446.2 319.2V328.6"/><path d="M450.8 331.3H460.2M455.5 326.6V336"/><path d="M458.6 338.7H468M463.3 334V343.4"/><path d="M464.4 345.6H473.8M469.1 340.9V350.3"/><path d="M471.8 353.2H481.2M476.5 348.5V357.9"/><path d="M483.8 360.4H493.2M488.5 355.7V365.1"/><path d="M493.1 367.9H502.5M497.8 363.2V372.6"/><path d="M507.8 375H517.2M512.5 370.3V379.7"/><path d="M521.9 380.7H531.3M526.6 376V385.4"/><path d="M533.6 383.5H543M538.3 378.8V388.2"/><path d="M545.2 387.5H554.6M549.9 382.8V392.2"/><path d="M98.3 173.8H107.7M103 169.1V178.5"/><path d="M118 173H127.4M122.7 168.3V177.7"/><path d="M137.2 173.8H146.6M141.9 169.1V178.5"/><path d="M157.1 171.5H166.5M161.8 166.8V176.2"/><path d="M176.5 171H185.9M181.2 166.3V175.7"/><path d="M196.1 168.7H205.5M200.8 164V173.4"/><path d="M211.6 166.9H221M216.3 162.2V171.6"/><path d="M227.6 165.4H237M232.3 160.7V170.1"/><path d="M242.4 163.2H251.8M247.1 158.5V167.9"/><path d="M258.4 161.1H267.8M263.1 156.4V165.8"/><path d="M270.8 161.5H280.2M275.5 156.8V166.2"/><path d="M282.6 158.1H292M287.3 153.4V162.8"/><path d="M295.1 154.1H304.5M299.8 149.4V158.8"/><path d="M303.9 152.5H313.3M308.6 147.8V157.2"/><path d="M313.4 150.9H322.8M318.1 146.2V155.6"/><path d="M320.7 146.7H330.1M325.4 142V151.4"/><path d="M328.6 144.5H338M333.3 139.8V149.2"/><path d="M334.2 142.3H343.6M338.9 137.6V147"/><path d="M341.4 139.4H350.8M346.1 134.7V144.1"/><path d="M350.3 135.1H359.7M355 130.4V139.8"/><path d="M360.1 131.9H369.5M364.8 127.2V136.6"/><path d="M369.6 129.7H379M374.3 125V134.4"/><path d="M378.5 126.4H387.9M383.2 121.7V131.1"/><path d="M388.5 122.7H397.9M393.2 118V127.4"/><path d="M397.4 119.5H406.8M402.1 114.8V124.2"/><path d="M407.1 116.3H416.5M411.8 111.6V121"/><path d="M416.4 113.2H425.8M421.1 108.5V117.9"/><path d="M425.6 110H435M430.3 105.3V114.7"/><path d="M436.9 105.4H446.3M441.6 100.7V110.1"/><path d="M446.4 97.9H455.8M451.1 93.2V102.6"/><path d="M455.7 93.4H465.1M460.4 88.7V98.1"/><path d="M465.2 86.6H474.6M469.9 81.9V91.3"/><path d="M484.4 82H493.8M489.1 77.3V86.7"/><path d="M493.4 78.2H502.8M498.1 73.5V82.9"/><path d="M502.5 74.6H511.9M507.2 69.9V79.3"/><path d="M511.1 70.3H520.5M515.8 65.6V75"/><path d="M518.3 66.2H527.7M523 61.5V70.9"/><path d="M524 62.8H533.4M528.7 58.1V67.5"/><path d="M529.3 58.3H538.7M534 53.6V63"/><path d="M535.3 55.4H544.7M540 50.7V60.1"/><path d="M541.1 53.8H550.5M545.8 49.1V58.5"/><path d="M547.9 50.8H557.3M552.6 46.1V55.5"/><path d="M554.7 47.7H564.1M559.4 43V52.4"/><path d="M564.2 46.3H573.6M568.9 41.6V51"/><path d="M573.5 44.7H582.9M578.2 40V49.4"/><path d="M583 42.9H592.4M587.7 38.2V47.6"/></g>
<path d="M96 12V428M95 427H686" stroke="#000" stroke-width="2" fill="none"/>
<path d="M96 13 H104 M96 82 H104 M96 151 H104 M96 220 H104 M96 289 H104 M96 358 H104 M96 427 H104 M96 47.5 H100 M96 116.5 H100 M96 185.5 H100 M96 254.5 H100 M96 323.5 H100 M96 392.5 H100 M96 427 V418.5 M174.4 427 V418.5 M252.7 427 V418.5 M331.1 427 V418.5 M409.5 427 V418.5 M487.9 427 V418.5 M566.2 427 V418.5 M644.6 427 V418.5 M135.2 427 V422.7 M213.6 427 V422.7 M291.9 427 V422.7 M370.3 427 V422.7 M448.7 427 V422.7 M527 427 V422.7 M605.4 427 V422.7 M683.8 427 V422.7" stroke="#000" stroke-width="1.8" fill="none"/>
<defs><filter id="gs" x="0" y="0" width="1" height="1"><feOffset dx="0" dy="0"/></filter></defs><g filter="url(#gs)"><g font-family="Liberation Sans, sans-serif" font-size="24" fill="#000">
<text transform="translate(86.6 20.6) scale(0.965 1)" text-anchor="end">200</text>
<text transform="translate(86.6 89.6) scale(0.965 1)" text-anchor="end">100</text>
<text transform="translate(86.6 158.6) scale(0.965 1)" text-anchor="end">0</text>
<text transform="translate(86.6 227.6) scale(0.965 1)" text-anchor="end">-100</text>
<text transform="translate(86.6 296.6) scale(0.965 1)" text-anchor="end">-200</text>
<text transform="translate(86.6 365.6) scale(0.965 1)" text-anchor="end">-300</text>
<text transform="translate(86.6 434.6) scale(0.965 1)" text-anchor="end">-400</text>
<text transform="translate(96 456.3) scale(0.965 1)" text-anchor="middle">-8</text>
<text transform="translate(174.4 456.3) scale(0.965 1)" text-anchor="middle">-7</text>
<text transform="translate(252.7 456.3) scale(0.965 1)" text-anchor="middle">-6</text>
<text transform="translate(331.1 456.3) scale(0.965 1)" text-anchor="middle">-5</text>
<text transform="translate(409.5 456.3) scale(0.965 1)" text-anchor="middle">-4</text>
<text transform="translate(487.9 456.3) scale(0.965 1)" text-anchor="middle">-3</text>
<text transform="translate(566.2 456.3) scale(0.965 1)" text-anchor="middle">-2</text>
<text transform="translate(644.6 456.3) scale(0.965 1)" text-anchor="middle">-1</text>
</g>
<text transform="translate(24.6 297.8) rotate(-90)" font-family="Liberation Sans, sans-serif" font-size="29.3" letter-spacing="0.4" fill="#000"><tspan font-style="italic">E</tspan>, mV(SCE)</text>
<text x="297.6" y="509.2" font-family="Liberation Sans, sans-serif" font-size="29" fill="#000">log ( <tspan font-style="italic">i</tspan> / A cm<tspan font-size="17" dy="-16.5" dx="-0.3">-2</tspan><tspan dy="16.5" dx="1">)</tspan></text>
</g>
<rect x="156.8" y="249.2" width="111.6" height="129.8" fill="#fff" stroke="#000" stroke-width="1.4"/>
<path d="M164.8 265.8 H176.3 M189.9 265.8 H201" stroke="#000000" stroke-width="1" stroke-opacity="0.6"/>
<g fill="#000000"><rect x="178.5" y="261.7" width="8.2" height="8.2"/></g>
<text x="205.5" y="270.9" font-family="Liberation Sans, sans-serif" font-size="14" fill="#000" filter="url(#gs)">Blank</text>
<path d="M164.8 286 H176.3 M189.9 286 H201" stroke="#FF0000" stroke-width="1" stroke-opacity="0.6"/>
<g fill="#FF0000"><circle cx="182.6" cy="286" r="4.6"/></g>
<text x="205.5" y="291.1" font-family="Liberation Sans, sans-serif" font-size="14" fill="#000" filter="url(#gs)">100 mg/L</text>
<path d="M164.8 306.2 H176.3 M189.9 306.2 H201" stroke="#00FF00" stroke-width="1" stroke-opacity="0.6"/>
<g fill="#00FF00"><path d="M182.6 299.1L188.6 309.7L176.6 309.7Z"/></g>
<text x="205.5" y="311.3" font-family="Liberation Sans, sans-serif" font-size="14" fill="#000" filter="url(#gs)">200 mg/L</text>
<path d="M164.8 326.4 H176.3 M189.9 326.4 H201" stroke="#0000FF" stroke-width="1" stroke-opacity="0.6"/>
<g fill="#0000FF"><path d="M176.6 322.9L188.6 322.9L182.6 333.5Z"/></g>
<text x="205.5" y="331.5" font-family="Liberation Sans, sans-serif" font-size="14" fill="#000" filter="url(#gs)">300 mg/L</text>
<path d="M164.8 346.6 H176.3 M189.9 346.6 H201" stroke="#00FFFF" stroke-width="1" stroke-opacity="0.6"/>
<g fill="#00FFFF"><path d="M182.6 340.7L188.5 346.6L182.6 352.5L176.7 346.6Z"/></g>
<text x="205.5" y="351.7" font-family="Liberation Sans, sans-serif" font-size="14" fill="#000" filter="url(#gs)">400 mg/L</text>
<path d="M164.8 366.8 H176.3 M189.9 366.8 H201" stroke="#FF00FF" stroke-width="1" stroke-opacity="0.6"/>
<g stroke="#FF00FF" stroke-width="1.7" fill="none"><path d="M177.9 366.8H187.3M182.6 362.1V371.5"/></g>
<text x="205.5" y="371.9" font-family="Liberation Sans, sans-serif" font-size="14" fill="#000" filter="url(#gs)">500 mg/L</text>
</svg>
</body></html>
